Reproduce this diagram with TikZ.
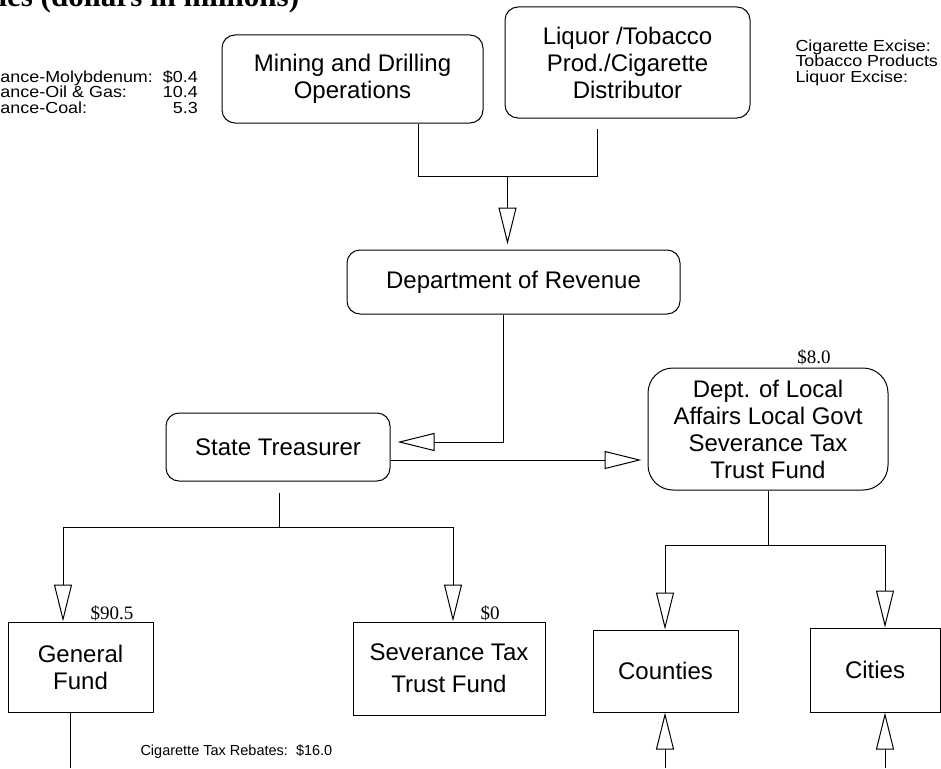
\documentclass[tikz,border=0pt]{standalone}
\usepackage{fontspec}
\setmainfont{Liberation Serif}
\setsansfont{Liberation Sans}
\newfontfamily\notefont[FakeStretch=1.12]{Liberation Sans}
\usetikzlibrary{arrows.meta}

\begin{document}
\begin{tikzpicture}[x=1pt,y=-1pt,line width=1pt,
  agency/.style={draw=black,align=center,inner sep=0pt,font=\sffamily\fontsize{24}{27}\selectfont},
  agencyR/.style={agency,rounded corners=13pt},
  agencyL/.style={agency,rounded corners=25pt},
  note/.style={inner sep=0pt,font=\notefont\fontsize{16}{13.5}\selectfont},
  amount/.style={inner sep=0pt,font=\rmfamily\fontsize{19}{19}\selectfont},
  flow/.style={-{Triangle[length=37pt,width=18pt,fill=white]}}]
\useasboundingbox (0,0) rectangle (941,768);
\clip (0,0) rectangle (941,768);

\node[anchor=base west,inner sep=0pt,font=\rmfamily\bfseries\fontsize{31}{31}\selectfont] (title) at (-2,7) {ies (dollars in millions)};

% severance amounts
\node[note,anchor=north west] (sevList) at (0,70) {\begin{tabular}{@{}l@{\hspace{10pt}}r@{}}
ance-Molybdenum: & \$0.4\\
ance-Oil \& Gas: & 10.4\\
ance-Coal: & 5.3
\end{tabular}};

% excise amounts
\node[note,anchor=north west] (excList) at (795,39) {\begin{tabular}{@{}l@{}}
Cigarette Excise:\\
Tobacco Products\\
Liquor Excise:
\end{tabular}};

\node[agencyR,minimum width=261pt,minimum height=88pt] (mine) at (352.5,79) {Mining and Drilling\\Operations};
\node[agencyR,minimum width=245pt,minimum height=111pt] (liquor) at (627.5,62.5) {Liquor /Tobacco\\Prod./Cigarette\\Distributor};
\node[agencyR,minimum width=333pt,minimum height=64pt] (revenue) at (513.5,282) {Department of Revenue};
\node[agencyR,minimum width=224pt,minimum height=68pt] (treasurer) at (278,447) {State Treasurer};
\node[agencyL,minimum width=240pt,minimum height=122pt] (local) at (768,429) {Dept. of Local\\Affairs Local Govt\\Severance Tax\\Trust Fund};
\node[agency,minimum width=145pt,minimum height=90pt] (general) at (80.5,667) {General\\Fund};
\node[agency,minimum width=192pt,minimum height=93pt,font=\sffamily\fontsize{24}{32}\selectfont] (severance) at (449,668.5) {Severance Tax\\Trust Fund};
\node[agency,minimum width=145pt,minimum height=82pt] (counties) at (665.5,671) {Counties};
\node[agency,minimum width=130pt,minimum height=84pt] (cities) at (875,670) {Cities};

\node[amount,anchor=base west] (genAmt) at (90,619) {\$90.5};
\node[amount,anchor=base west] (sevAmt) at (480,619) {\$0};
\node[amount,anchor=base] (locAmt) at (814,363) {\$8.0};
\node[anchor=base west,inner sep=0pt,font=\sffamily\fontsize{14.5}{14.5}\selectfont] (rebate) at (140,755) {Cigarette Tax Rebates:\ \ \$16.0};

% collections to revenue
\coordinate (mineDrop) at (418,176);
\coordinate (liqDrop) at (597,176);
\coordinate (revIn) at (507.5,176);
\draw (mine.south -| mineDrop) -- (mineDrop) -- (liqDrop) -- ([yshift=-10pt]liquor.south -| liqDrop);
\draw[flow,shorten >=5pt] (revIn) -- (revenue.north -| revIn);

% revenue to treasurer, treasurer to local affairs
\coordinate (revBend) at (503,442);
\draw[flow,shorten >=7pt] (revenue.south -| revBend) -- (revBend) -- (treasurer.east |- revBend);
\draw[flow,shorten >=6pt] ([yshift=-13pt]treasurer.east) -- ([yshift=-13pt]treasurer.east -| local.west);

% treasurer split
\coordinate (tSplit) at (279,527);
\coordinate (genIn) at (63,527);
\coordinate (sevIn) at (453,527);
\draw ([yshift=-11pt]treasurer.south -| tSplit) -- (tSplit);
\draw[flow] (tSplit) -- (genIn) -- (general.north -| genIn);
\draw[flow] (tSplit) -- (sevIn) -- (severance.north -| sevIn);

% local affairs split
\coordinate (lSplit) at (768,545);
\coordinate (couIn) at (665,545);
\coordinate (citIn) at (885,545);
\draw (local.south) -- (lSplit);
\draw[flow] (lSplit) -- (couIn) -- (counties.north -| couIn);
\draw[flow] (lSplit) -- (citIn) -- (cities.north -| citIn);

% lower edge
\coordinate (genBot) at (70,768);
\coordinate (couBot) at (665,768);
\coordinate (citBot) at (885,768);
\draw (general.south -| genBot) -- (genBot);
\draw[flow] (couBot) -- (counties.south -| couBot);
\draw[flow] (citBot) -- (cities.south -| citBot);
\end{tikzpicture}
\end{document}
